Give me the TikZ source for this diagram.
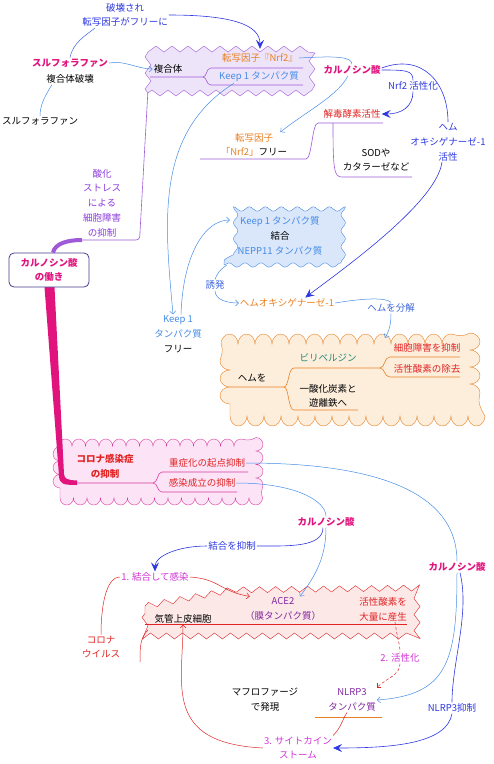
\documentclass[tikz,border=0pt]{standalone}
\usepackage{fontspec}
\setmainfont{Noto Sans CJK JP}
\usepackage{xcolor}
\usetikzlibrary{arrows.meta, calc, decorations.pathmorphing}

\definecolor{deepblue}{RGB}{45,55,225}
\definecolor{midblue}{RGB}{60,100,220}
\definecolor{skyblue}{RGB}{70,140,230}
\definecolor{magent}{RGB}{225,20,125}
\definecolor{redtx}{RGB}{225,35,35}
\definecolor{orangetx}{RGB}{232,128,35}
\definecolor{violettx}{RGB}{140,60,220}
\definecolor{purpletx}{RGB}{130,40,160}
\definecolor{steptx}{RGB}{210,50,215}
\definecolor{tealtx}{RGB}{40,135,120}
\definecolor{navy}{RGB}{70,60,140}
\definecolor{boxpurple}{RGB}{160,90,215}
\definecolor{boxlav}{RGB}{238,228,250}
\definecolor{boxblue}{RGB}{218,230,250}
\definecolor{boxpeach}{RGB}{253,238,220}
\definecolor{boxpinkc}{RGB}{252,228,246}
\definecolor{boxrose}{RGB}{253,232,232}
\definecolor{pinkedge}{RGB}{215,60,160}

\tikzset{
  txt/.style={font=\fontsize{9.5}{14.75}\selectfont, align=center, inner sep=1pt},
  kw/.style={txt, font=\fontsize{9.5}{14.75}\selectfont\bfseries, text=magent},
  hardline/.style={deepblue, line width=0.6pt},
  hard/.style={hardline, -{Stealth[length=9pt,width=8pt,inset=3.5pt]}},
  soft/.style={skyblue, line width=0.5pt},
  softarr/.style={soft, -{Straight Barb[length=3pt,width=6pt]}},
  redline/.style={redtx, line width=0.5pt},
  redarr/.style={redline, -{Straight Barb[length=3pt,width=6pt]}},
  reddot/.style={redline, densely dashed},
  boxline/.style={boxpurple, line width=0.6pt},
  oraline/.style={orangetx, line width=0.6pt},
  pinkline/.style={pinkedge, line width=0.6pt},
  zigbox/.style={draw, decorate, decoration={zigzag, segment length=16pt, amplitude=3pt}},
  wavebox/.style={draw, decorate, decoration={snake, segment length=16pt, amplitude=2.2pt}},
  cloudbox/.style={draw, decorate, decoration={bumps, mirror, segment length=27pt, amplitude=7pt}},
}

\begin{document}
\begin{tikzpicture}[x=1pt, y=-1pt]
    \useasboundingbox (0,0) rectangle (494,764);

    \node[zigbox, draw=boxpurple, fill=boxlav, minimum width=164pt, minimum height=44pt] (komp) at (230,71) {};
    \node[wavebox, draw=skyblue, fill=boxblue, minimum width=112pt, minimum height=58pt] (keapbox) at (280,236) {};
    \node[cloudbox, decoration={segment length=34pt, amplitude=10pt}, draw=orangetx, fill=boxpeach, minimum width=240pt, minimum height=72pt] (hemcloud) at (350,380) {};
    \node[cloudbox, draw=pinkedge, fill=boxpinkc, minimum width=196pt, minimum height=52pt] (corbox) at (158,472) {};
    \draw[zigbox, draw=redtx, fill=boxrose] (145,606) -- (232,590) -- (417,588) -- (417,636) -- (145,636) -- cycle;

    \draw[boxline] (150,77) -- (203,77) .. controls (207,77) and (206,68) .. (211,68) -- (303,68);
    \draw[boxline] (203,77) .. controls (207,77) and (206,85) .. (211,85) -- (303,85);
    \draw[boxline] (200,159) -- (306,159) .. controls (312,159) and (312,123) .. (318,123) -- (383,123);
    \draw[boxline] (333,123) .. controls (333,170) and (334,177) .. (342,177) -- (412,177);
    \draw[oraline] (230,387) -- (284,387) .. controls (289,387) and (288,368) .. (294,368) -- (380,368);
    \draw[oraline] (284,387) .. controls (289,387) and (288,410) .. (294,410) -- (358,410);
    \draw[oraline] (380,368) .. controls (385,368) and (384,357) .. (390,357) -- (460,357);
    \draw[oraline] (380,368) .. controls (385,368) and (384,377) .. (390,377) -- (460,377);
    \draw[pinkline] (77,483) -- (153,483) .. controls (158,483) and (157,472) .. (162,472) -- (248,472);
    \draw[pinkline] (153,483) .. controls (158,483) and (157,492) .. (162,492) -- (237,492);
    \draw[redline] (145,624) -- (407,624);
    \draw[oraline] (315,717) -- (382,717);

    \fill[magent] (44.5,287) -- (54.5,287) -- (64,474) .. controls (64.5,479) and (67,480) .. (77,480.5) -- (77,485) .. controls (63,485) and (59.5,484) .. (59,476) -- cycle;
    \coordinate (sankabase) at (82,240);

    \node[txt, text=deepblue] (hakai) at (125,15) {破壊され\\転写因子がフリーに};
    \node[kw] (sulf) at (70,63) {スルフォラファン};
    \node[txt] (fukugohakai) at (70,79) {複合体破壊};
    \node[txt] (sulf2) at (40,121) {スルフォラファン};
    \node[txt] (fukugo) at (168,69) {複合体};
    \node[txt, text=orangetx] (nrf2) at (260,58) {転写因子『Nrf2』};
    \node[txt, text=skyblue] (keapA) at (259,77) {Keep 1 タンパク質};
    \node[kw] (carnA) at (352,70) {カルノシン酸};
    \node[txt, text=deepblue] (nrfact) at (413,86) {Nrf2 活性化};
    \node[txt, text=deepblue] (hemolab) at (448,142) {ヘム\\オキシゲナーゼ-1\\活性};
    \node[txt, text=redtx] (gedoku) at (352,114) {解毒酵素活性};
    \node[txt, text=orangetx] (nrffree) at (254,145) {転写因子\\「Nrf2」\textcolor{black}{フリー}};
    \node[txt] (sod) at (376,160) {SODや\\カタラーゼなど};
    \node[txt, text=violettx] (sanka) at (102,203) {酸化\\ストレス\\による\\細胞障害\\の抑制};
    \node[kw, draw=navy, line width=0.8pt, rounded corners=5pt, fill=white, minimum width=80pt, minimum height=34pt] (hub) at (49,270) {カルノシン酸\\の働き};
    \node[txt, text=skyblue] (keapB) at (178,334) {Keep 1\\タンパク質\\\textcolor{black}{フリー}};
    \node[txt, text=skyblue] at (keapbox) {Keep 1 タンパク質\\\textcolor{black}{結合}\\NEPP11 タンパク質};
    \node[txt, text=midblue] (yuhatsu) at (215,285) {誘発};
    \node[txt, text=orangetx] (ho1) at (287,303) {ヘムオキシゲナーゼ-1};
    \node[txt, text=midblue] (hembunkai) at (391,308) {ヘムを分解};
    \node[txt] (hemuwo) at (252,378) {ヘムを};
    \node[txt, text=tealtx] (biri) at (328,358) {ビリベルジン};
    \node[txt, text=redtx] (saibo) at (427,348) {細胞障害を抑制};
    \node[txt, text=redtx] (kasseiA) at (427,369) {活性酸素の除去};
    \node[txt] (co) at (328,396) {一酸化炭素と\\遊離鉄へ};
    \node[txt, text=redtx, font=\fontsize{9.5}{14.75}\selectfont\bfseries] (corona) at (105,466) {コロナ感染症\\の抑制};
    \node[txt, text=redtx] (jusho) at (207,463) {重症化の起点抑制};
    \node[txt, text=redtx] (kansen) at (202,483) {感染成立の抑制};
    \node[kw] (carnB) at (326,522) {カルノシン酸};
    \node[txt, text=deepblue] (ketsugo) at (232,546) {結合を抑制};
    \node[kw] (carnC) at (457,567) {カルノシン酸};
    \node[txt, text=steptx] (step1) at (155,577) {1. 結合して感染};
    \node[txt, text=purpletx] (ace2) at (283,609) {ACE2\\（膜タンパク質）};
    \node[txt, text=redtx] (kasseiB) at (383,609) {活性酸素を\\大量に産生};
    \node[txt] (kikan) at (183,619) {気管上皮細胞};
    \node[txt, text=redtx] (virus) at (101,647) {コロナ\\ウイルス};
    \node[txt, text=steptx] (step2) at (400,658) {2. 活性化};
    \node[txt, text=purpletx] (nlrp3) at (352,700) {NLRP3\\タンパク質};
    \node[txt] (macro) at (265,700) {マフロファージ\\で発現};
    \node[txt, text=deepblue] (nlrpsup) at (452,708) {NLRP3抑制};
    \node[txt, text=steptx] (step3) at (298,748) {3. サイトカイン\\ストーム};
    \coordinate (kikancorner) at (148,630);
    \coordinate (kikantail) at (140,662);

    \draw[boxpurple, line width=4pt] ([xshift=4pt]hub.north) .. controls +(2,-9) and +(-15,0) .. (sankabase);
    \draw[boxline] (sankabase) -- (136,240) .. controls (140,240) and (140,236) .. (140,232) -- (komp.south west);

    \draw[hard] (hakai.east) .. controls +(60,0) and +(0,-25) .. (komp.north -| nrf2);
    \draw[midblue, line width=0.5pt] (sulf.north) .. controls +(3,-15) and +(-10,8) .. ([xshift=-30pt]hakai.south);
    \draw[soft] ([xshift=-18pt]fukugohakai.south) .. controls +(-6,10) and +(0,-12) .. (sulf2.north);
    \draw[softarr] (sulf.east) .. controls +(15,-3) and +(-15,0) .. (fukugo.west);

    \draw[soft] (nrf2.east) .. controls +(35,-2) and +(0,-8) .. (carnA.north);
    \draw[softarr] ([xshift=-4pt]carnA.south) .. controls +(-10,20) and +(25,-20) .. ([xshift=-8pt]nrffree.north east);
    \draw[hardline] (carnA.east) .. controls +(25,0) and +(0,-10) .. (nrfact.north);
    \draw[hard] (nrfact.south) .. controls +(0,15) and +(20,0) .. (gedoku.east);
    \draw[hardline] ([yshift=2pt]carnA.east) .. controls +(40,-15) and +(0,-40) .. (hemolab.north);
    \draw[hard] ([xshift=-6pt]hemolab.south) .. controls +(-5,40) and +(40,-30) .. ([xshift=-30pt]ho1.north east);

    \draw[softarr] ([xshift=-25pt]keapA.south) .. controls +(-80,50) and +(-8,-90) .. ([xshift=-5pt]keapB.north);
    \draw[softarr] ([xshift=3pt]keapB.north) .. controls +(2,-60) and +(-25,0) .. ([xshift=6pt,yshift=16pt]keapbox.west);
    \draw[soft] ([xshift=3pt]keapbox.south west) .. controls +(-8,5) and +(2,-5) .. (yuhatsu.north);
    \draw[softarr] (yuhatsu.south) .. controls +(0,10) and +(-10,0) .. (ho1.west);
    \draw[soft] (ho1.east) .. controls +(30,-5) and +(-5,-5) .. (hembunkai.north);
    \draw[softarr] (hembunkai.south) .. controls +(0,8) and +(5,-8) .. ([xshift=35pt,yshift=6pt]hemcloud.north);

    \draw[soft] (jusho.east) .. controls +(150,0) and +(0,-60) .. (carnC.north);
    \draw[softarr] (carnC.south) .. controls +(0,90) and +(70,-5) .. (nlrp3.east);
    \draw[hardline] ([xshift=3pt]carnC.south) .. controls +(10,40) and +(0,-40) .. (nlrpsup.north);
    \draw[hard] (nlrpsup.south) .. controls +(-5,30) and +(60,0) .. (step3.east);
    \draw[soft] (kansen.east) .. controls +(60,0) and +(0,-15) .. (carnB.north);
    \draw[softarr] (carnB.south) .. controls +(0,30) and +(15,-20) .. ([xshift=17pt]ace2.north);
    \draw[hardline] ([xshift=-3pt]carnB.south) .. controls +(0,20) and +(30,0) .. (ketsugo.east);
    \draw[hard] (ketsugo.west) .. controls +(-30,0) and +(0,-15) .. (step1.north);

    \draw[redarr] (step1.east) .. controls +(30,2) and +(-30,-5) .. ([xshift=6pt]ace2.north west);
    \draw[redline] (step1.west) .. controls +(-15,0) and +(0,-25) .. (virus.north);
    \draw[redline] (kikancorner) .. controls +(-8,8) and +(0,-15) .. (kikantail);
    \draw[reddot] ([xshift=12pt]kasseiB.south) .. controls +(2,15) and +(0,-8) .. (step2.north);
    \draw[reddot, -{Straight Barb[length=3pt,width=6pt]}] (step2.south) .. controls +(0,12) and +(10,-10) .. (nlrp3.north east);
    \draw[redline] ([xshift=-5pt]nlrp3.south) .. controls +(-5,8) and +(8,-8) .. (step3.north east);
    \draw[redarr] (step3.west) .. controls +(-100,-5) and +(0,60) .. (kikan.south);
\end{tikzpicture}
\end{document}
